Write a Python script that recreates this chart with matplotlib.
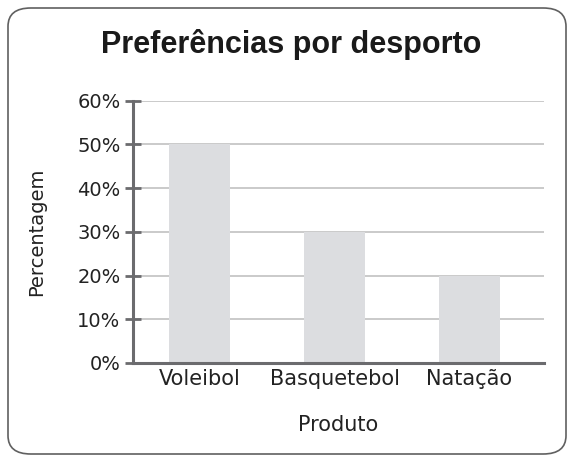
import numpy as np
import matplotlib
matplotlib.use("Agg")
import matplotlib.pyplot as plt
from matplotlib.patches import FancyBboxPatch
from matplotlib.ticker import FuncFormatter

categories = ["Voleibol", "Basquetebol", "Natação"]
values = [50, 30, 20]
yticks = [0, 10, 20, 30, 40, 50, 60]

plt.rcParams['font.family'] = ['DejaVu Sans']

fig = plt.figure(figsize=(5.7, 4.59), dpi=100)
W, H = 570, 459

# rounded frame around the whole chart
frame = FancyBboxPatch((8 / W, 5 / H), 558 / W, 446 / H,
                       boxstyle="round,pad=0,rounding_size=0.04",
                       transform=fig.transFigure, facecolor="white",
                       edgecolor="#606060", linewidth=1.2, zorder=-5)
fig.patches.append(frame)

ax = fig.add_axes([133 / W, 1 - 363 / H, (544 - 133) / W, (363 - 100.7) / H])
ax.set_facecolor("none")

x = np.arange(len(categories))
ax.bar(x, values, width=0.45, color="#dcdde0", zorder=2)

ax.set_xlim(-0.493, 2.552)
ax.set_ylim(0, 60)
ax.set_yticks(yticks)
ax.yaxis.set_major_formatter(FuncFormatter(lambda v, p: f"{v:.0f}%"))
ax.set_xticks(x)
ax.set_xticklabels(categories)

ax.grid(axis="y", color="#c6c6c6", linewidth=1.3, zorder=1)
ax.set_axisbelow(True)

for s in ["top", "right"]:
    ax.spines[s].set_visible(False)
axis_col = "#6b6b6e"
ax.spines["left"].set_color(axis_col)
ax.spines["bottom"].set_color(axis_col)
ax.spines["left"].set_linewidth(2.2)
ax.spines["bottom"].set_linewidth(2.2)
ax.spines["left"].set_zorder(3)
ax.spines["bottom"].set_zorder(3)

ax.tick_params(axis="y", direction="inout", length=12, width=2, color=axis_col,
               labelsize=14, pad=3, labelcolor="#222222")
ax.tick_params(axis="x", length=0, labelsize=15, pad=4, labelcolor="#222222")

ax.set_ylabel("Percentagem", fontsize=14, color="#222222", labelpad=22)
ax.set_xlabel("Produto", fontsize=15, color="#222222", labelpad=19)

fig.text(291 / W, 1 - 45 / H, "Preferências por desporto", ha="center", va="center",
         fontsize=22, fontweight="bold", color="#1a1a1a", family="Liberation Sans")

fig.savefig("out.png", dpi=100)
